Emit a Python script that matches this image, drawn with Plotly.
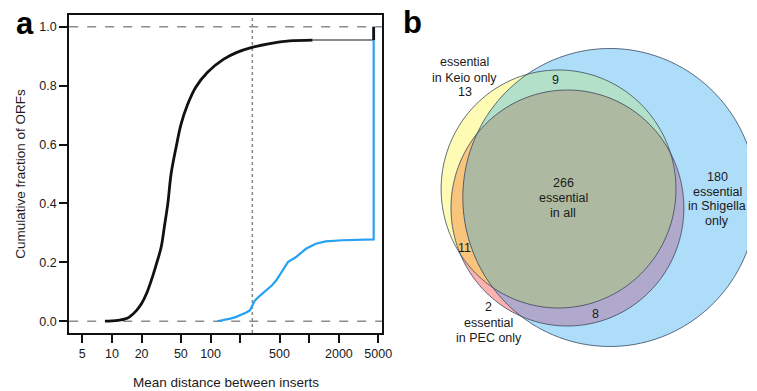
import numpy as np
import plotly.graph_objects as go

# ---------------- data: panel a (cumulative fraction of ORFs) ----------------
black_x = [8.5, 10, 12, 13.4, 15, 17.8, 20, 22.5, 25.1, 28, 31.6, 34, 36.9, 39.8, 44.7,
           50.1, 58.5, 70.8, 92.7, 136, 185, 263, 398, 631, 1081]
black_y = [0.0, 0.001, 0.004, 0.007, 0.014, 0.037, 0.06, 0.095, 0.139, 0.19, 0.252, 0.32,
           0.40, 0.50, 0.59, 0.668, 0.736, 0.795, 0.845, 0.89, 0.913, 0.93, 0.943, 0.952, 0.955]
plateau_x = [1081, 4500]
plateau_y = [0.955, 0.955]
final_step_x = [4500, 4500]
final_step_y = [0.955, 1.0]

blue_x = [117, 140, 158, 180, 200, 230, 251, 261, 282, 320, 369, 420, 464, 542, 608, 736,
          927, 1167, 1469, 2158, 4500, 4500]
blue_y = [0.0, 0.004, 0.009, 0.014, 0.02, 0.03, 0.037, 0.048, 0.071, 0.088, 0.105, 0.122,
          0.139, 0.173, 0.201, 0.218, 0.246, 0.263, 0.271, 0.275, 0.278, 1.0]

threshold_x = 265
x_tickvals = [5, 10, 20, 50, 100, 200, 500, 1000, 2000, 5000]
x_ticktext = ["5", "10", "20", "50", "100", "", "500", "", "2000", "5000"]
y_tickvals = [0.0, 0.2, 0.4, 0.6, 0.8, 1.0]
y_ticktext = ["0.0", "0.2", "0.4", "0.6", "0.8", "1.0"]

# ---------------- data: panel b (Venn counts) ----------------
n_keio_only = 13
n_pec_only = 2
n_shig_only = 180
n_keio_pec = 11
n_keio_shig = 9
n_pec_shig = 8
n_all = 266

# ---------------- layout constants ----------------
PAGE_W, PAGE_H = 757, 391
OFF_X, OFF_Y = 8, 8  # default body margin of the html page
W, H = PAGE_W - OFF_X, PAGE_H - OFF_Y
FONT = "Liberation Sans, Arial, Helvetica, sans-serif"
TXT = "#1a1a1a"


def dom_x(a, b):
    return [(a - OFF_X) / W, (b - OFF_X) / W]


def dom_y(top, bottom):
    return [1 - (bottom - OFF_Y) / H, 1 - (top - OFF_Y) / H]


fig = go.Figure()

fig.add_trace(go.Scatter(x=plateau_x, y=plateau_y, mode="lines",
                         line=dict(color="#8a8a8a", width=2), xaxis="x", yaxis="y",
                         showlegend=False, hoverinfo="skip"))
fig.add_trace(go.Scatter(x=blue_x, y=blue_y, mode="lines",
                         line=dict(color="#27A2F2", width=2.2), xaxis="x", yaxis="y",
                         showlegend=False))
fig.add_trace(go.Scatter(x=black_x, y=black_y, mode="lines", line_shape="spline",
                         line=dict(color="#111111", width=2.8), xaxis="x", yaxis="y",
                         showlegend=False))
fig.add_trace(go.Scatter(x=final_step_x, y=final_step_y, mode="lines",
                         line=dict(color="#111111", width=2.8), xaxis="x", yaxis="y",
                         showlegend=False))

shapes = []
for yv in (0.0, 1.0):
    shapes.append(dict(type="line", xref="x domain", yref="y", x0=0, x1=1, y0=yv, y1=yv,
                       line=dict(color="#8c8c8c", width=1.6, dash="dash"), layer="below"))
shapes.append(dict(type="line", xref="x", yref="y domain", x0=threshold_x, x1=threshold_x,
                   y0=0, y1=1, line=dict(color="#8c8c8c", width=1.6, dash="dot"), layer="below"))

# ---------------- Venn geometry (page-pixel coordinates on hidden axes x2/y2) ----------------
C_SHIG = (618.0, 197.5, 149.0)
C_KEIO = (566.0, 189.0, 119.0)
C_PEC = (575.0, 208.0, 118.0)


def circle_path(c):
    t = np.linspace(0, 2 * np.pi, 361)
    xs = c[0] + c[2] * np.cos(t)
    ys = c[1] + c[2] * np.sin(t)
    return "M " + " L ".join(f"{a:.2f},{b:.2f}" for a, b in zip(xs, ys)) + " Z"


def inter_path(circles):
    pts = []
    t = np.linspace(0, 2 * np.pi, 1441)
    for i, c in enumerate(circles):
        xs = c[0] + c[2] * np.cos(t)
        ys = c[1] + c[2] * np.sin(t)
        for a, b in zip(xs, ys):
            ok = True
            for j, d in enumerate(circles):
                if j != i and (a - d[0]) ** 2 + (b - d[1]) ** 2 > d[2] ** 2 + 1e-6:
                    ok = False
                    break
            if ok:
                pts.append((a, b))
    pts = np.array(pts)
    cx, cy = pts[:, 0].mean(), pts[:, 1].mean()
    order = np.argsort(np.arctan2(pts[:, 1] - cy, pts[:, 0] - cx))
    pts = pts[order]
    return "M " + " L ".join(f"{a:.2f},{b:.2f}" for a, b in pts) + " Z"


def fill(path, color):
    shapes.append(dict(type="path", xref="x2", yref="y2", path=path,
                       fillcolor=color, line=dict(width=0), layer="above"))


fill(circle_path(C_SHIG), "#AEDDFA")
fill(circle_path(C_KEIO), "#FDFBB4")
fill(inter_path([C_KEIO, C_SHIG]), "#B2E0C9")
fill(circle_path(C_PEC), "#FBB2B0")
fill(inter_path([C_PEC, C_KEIO]), "#F9C57C")
fill(inter_path([C_PEC, C_SHIG]), "#B1A9CC")
fill(inter_path([C_PEC, C_KEIO, C_SHIG]), "#ADB9A0")
for c in (C_SHIG, C_KEIO, C_PEC):
    shapes.append(dict(type="path", xref="x2", yref="y2", path=circle_path(c),
                       fillcolor="rgba(0,0,0,0)", line=dict(color="#34455c", width=0.8),
                       layer="above"))

annotations = []


def txt(x, y, s, size=12.5, bold=False, yanchor="middle"):
    annotations.append(dict(xref="x2", yref="y2", x=x, y=y, text=(f"<b>{s}</b>" if bold else s),
                            showarrow=False, xanchor="center", yanchor=yanchor,
                            font=dict(family=FONT, size=size, color="#000" if bold else TXT)))


txt(25, 23, "a", size=31, bold=True)
txt(418, 22, "b", size=31, bold=True)

for yy, s in zip([62, 77.5, 92], ["essential", "in Keio only", str(n_keio_only)]):
    txt(471, yy, s)
txt(563, 80, str(n_keio_shig))
for yy, s in zip([183, 198, 213], [str(n_all), "essential", "in all"]):
    txt(571, yy, s)
for yy, s in zip([176.5, 191.5, 206, 221], [str(n_shig_only), "essential", "in Shigella", "only"]):
    txt(727, yy, s)
txt(471, 248, str(n_keio_pec))
for yy, s in zip([307, 322.5, 337.5], [str(n_pec_only), "essential", "in PEC only"]):
    txt(495, yy, s)
txt(603.5, 314, str(n_pec_shig))

txt(229, 382, "Mean distance between inserts", size=13.5)
annotations.append(dict(xref="x2", yref="y2", x=20, y=174, text="Cumulative fraction of ORFs",
                        textangle=-90, showarrow=False, xanchor="center", yanchor="middle",
                        font=dict(family=FONT, size=13.5, color=TXT)))

fig.update_layout(
    width=W, height=H, autosize=False,
    margin=dict(l=0, r=0, t=0, b=0, pad=0),
    paper_bgcolor="white", plot_bgcolor="rgba(0,0,0,0)",
    font=dict(family=FONT, size=12.5, color=TXT),
    showlegend=False,
    shapes=shapes,
    annotations=annotations,
    xaxis=dict(type="log", range=[0.567, 3.737], domain=dom_x(70, 387), anchor="y",
               tickmode="array", tickvals=x_tickvals, ticktext=x_ticktext,
               ticks="outside", ticklen=8, tickwidth=2, tickcolor="#111",
               showline=True, linewidth=2, linecolor="#111", mirror=True,
               showgrid=False, zeroline=False,
               tickfont=dict(family=FONT, size=12.5, color=TXT)),
    yaxis=dict(range=[-0.04, 1.04], domain=dom_y(15, 333), anchor="x",
               tickmode="array", tickvals=y_tickvals, ticktext=y_ticktext,
               ticks="outside", ticklen=8, tickwidth=2, tickcolor="#111",
               showline=True, linewidth=2, linecolor="#111", mirror=True,
               showgrid=False, zeroline=False,
               tickfont=dict(family=FONT, size=12.5, color=TXT)),
    xaxis2=dict(range=[OFF_X, PAGE_W], domain=[0, 1], anchor="y2", visible=False, fixedrange=True),
    yaxis2=dict(range=[PAGE_H, OFF_Y], domain=[0, 1], anchor="x2", visible=False, fixedrange=True),
)

fig.write_html("out.html")
